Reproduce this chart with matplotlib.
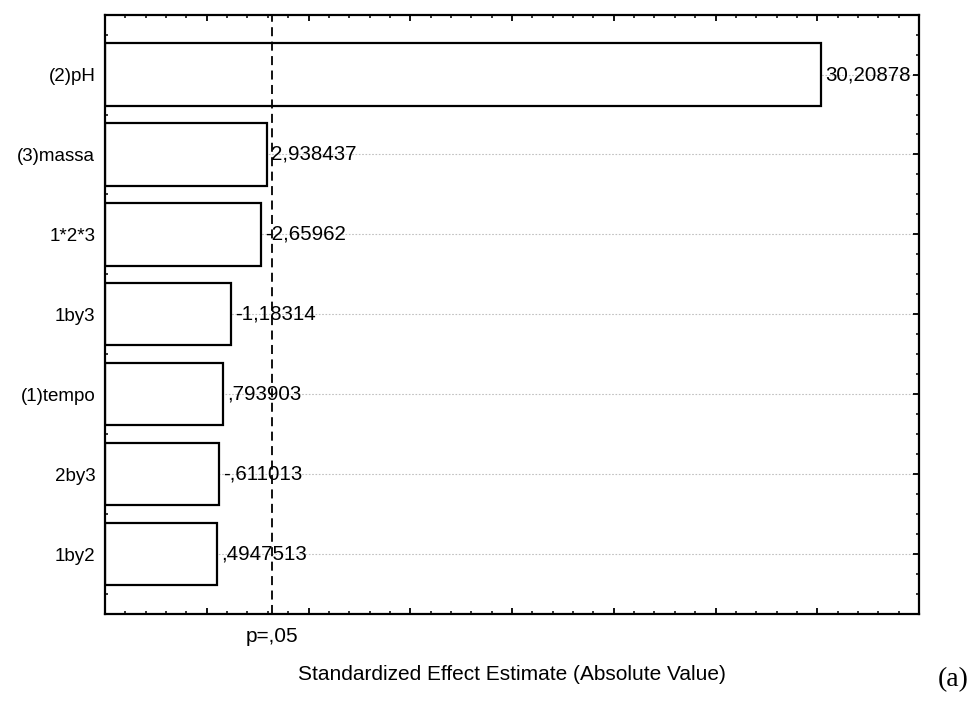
"""Pareto chart of standardized effects (STATISTICA style)."""

import matplotlib
matplotlib.use("Agg")
import matplotlib.pyplot as plt
from matplotlib.ticker import MultipleLocator
import matplotlib.transforms as mtransforms
import numpy as np

terms = ["(2)pH", "(3)massa", "1*2*3", "1by3", "(1)tempo", "2by3", "1by2"]
effects = [30.20878, 2.938437, -2.65962, -1.18314, 0.793903, -0.611013, 0.4947513]
t_crit = 3.182  # p = .05
x_min, x_max = -5, 35

plt.rcParams["font.family"] = ["Liberation Sans", "DejaVu Sans"]


def statistica_fmt(v):
    s = f"{v:.7g}"
    s = s.replace("-0.", "-.") if s.startswith("-0.") else s
    s = s[1:] if s.startswith("0.") else s
    return s.replace(".", ",")


fig = plt.figure(figsize=(9.73, 7.05), dpi=100)
ax = fig.add_axes([105 / 973, 1 - 614 / 705, (919 - 105) / 973, (614 - 15) / 705])

y = np.arange(len(terms))
abs_eff = np.abs(effects)

ax.grid(axis="y", which="major", color="#c0c0c0", linestyle=(0, (1.5, 1.5)), linewidth=0.8, zorder=0)
ax.barh(y, abs_eff - x_min, left=x_min, height=0.78, color="white",
        edgecolor="black", linewidth=1.6, zorder=2)

for yi, a, v in zip(y, abs_eff, effects):
    ax.annotate(statistica_fmt(v), (a, yi), xytext=(3, 0), textcoords="offset points",
                ha="left", va="center", fontsize=14.8, zorder=4)

ax.axvline(t_crit, color="black", linestyle=(0, (5, 3)), linewidth=1.3, zorder=3)

ax.set_xlim(x_min, x_max)
ax.set_ylim(len(terms) - 0.25, -0.745)
ax.xaxis.set_major_locator(MultipleLocator(5))
ax.xaxis.set_minor_locator(MultipleLocator(1))
ax.set_yticks(y)
ax.set_yticklabels(terms, fontsize=13.5)
ax.yaxis.set_minor_locator(MultipleLocator(0.25))
ax.set_xticklabels([])

ax.tick_params(which="both", direction="in", top=True, right=True, color="black")
ax.tick_params(which="major", length=4, width=1.3)
ax.tick_params(which="minor", length=2.5, width=1.1)
ax.tick_params(axis="y", which="major", pad=7)
for sp in ax.spines.values():
    sp.set_linewidth(1.6)

trans = mtransforms.blended_transform_factory(ax.transData, ax.transAxes)
ax.text(t_crit, -0.022, "p=,05", transform=trans, ha="center", va="top", fontsize=15)

ax.set_xlabel("Standardized Effect Estimate (Absolute Value)", fontsize=15, labelpad=33)
fig.text(953 / 973, 1 - 680 / 705, "(a)", family="Liberation Serif", fontsize=20,
         ha="center", va="center")

fig.savefig("out.png", dpi=100)
